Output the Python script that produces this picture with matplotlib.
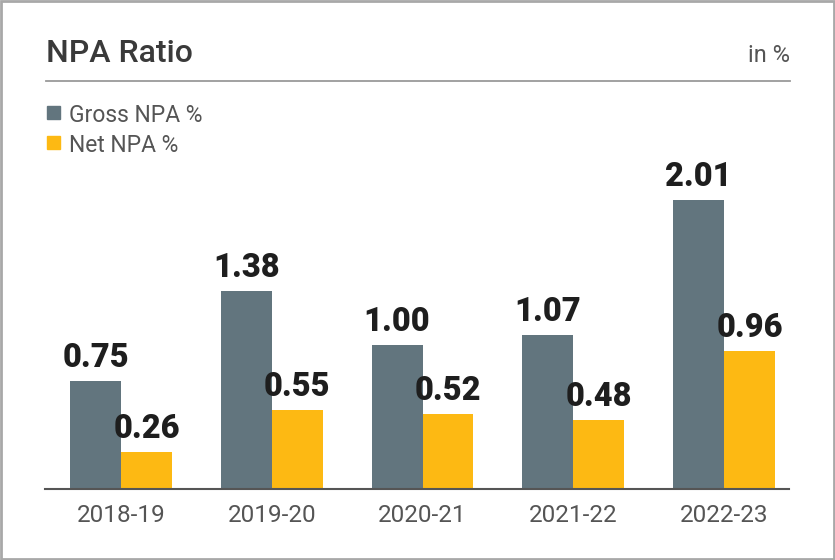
import matplotlib
matplotlib.use("Agg")
import matplotlib.pyplot as plt
from matplotlib.patches import Rectangle
import numpy as np

plt.rcParams["font.family"] = ["Roboto", "DejaVu Sans"]

# data
years = ["2018-19", "2019-20", "2020-21", "2021-22", "2022-23"]
gross_npa = [0.75, 1.38, 1.00, 1.07, 2.01]
net_npa = [0.26, 0.55, 0.52, 0.48, 0.96]
series_names = ["Gross NPA %", "Net NPA %"]
colors = ["#62757e", "#fdb913"]

W, H = 835, 560
fig = plt.figure(figsize=(W / 100, H / 100), dpi=100)

# axes placed in pixel terms of the reference
left, right, bottom, top = 45, 789, 489, 150
ax = fig.add_axes([left / W, (H - bottom) / H, (right - left) / W, (bottom - top) / H])

x = np.arange(len(years))
bw = 0.338
b1 = ax.bar(x - bw / 2, gross_npa, bw, color=colors[0])
b2 = ax.bar(x + bw / 2, net_npa, bw, color=colors[1])
for bars, vals in ((b1, gross_npa), (b2, net_npa)):
    for r, v in zip(bars, vals):
        ax.annotate(f"{v:.2f}", (r.get_x() + r.get_width() / 2, v),
                    xytext=(0, 5), textcoords="offset points",
                    ha="center", va="bottom", fontsize=23.5,
                    fontweight="heavy", color="#1e1e1e")

ax.set_xlim(-0.504, 4.431)
ax.set_ylim(0, (bottom - top) / 143.8)
ax.set_xticks(x)
ax.set_xticklabels(years, fontsize=17.5, color="#555555")
ax.tick_params(axis="x", length=0, pad=11)
ax.set_yticks([])
for s in ("top", "right", "left"):
    ax.spines[s].set_visible(False)
ax.spines["bottom"].set_color("#555555")
ax.spines["bottom"].set_linewidth(1.5)

# header
fig.text(46 / W, (H - 62) / H, "NPA Ratio", fontsize=23, fontweight="medium",
         color="#3a3a3a", ha="left", va="baseline")
fig.text(790 / W, (H - 62) / H, "in %", fontsize=17, color="#555555",
         ha="right", va="baseline")
fig.add_artist(plt.Line2D([46 / W, 790 / W], [(H - 81) / H] * 2,
                          color="#9a9a9a", lw=1.3))

# legend
for i, (name, c) in enumerate(zip(series_names, colors)):
    ytop = 106 + i * 30
    fig.patches.append(Rectangle((47 / W, (H - ytop - 13) / H), 13 / W, 13 / H,
                                 transform=fig.transFigure, color=c))
    fig.text(69 / W, (H - ytop - 16) / H, name, fontsize=16.5, color="#555555",
             ha="left", va="baseline")

# border
fig.patches.append(Rectangle((0.001, 0.001), 0.998, 0.998, transform=fig.transFigure,
                             fill=False, edgecolor="#a8a8a8", lw=2))

fig.savefig("out.png", dpi=100)
